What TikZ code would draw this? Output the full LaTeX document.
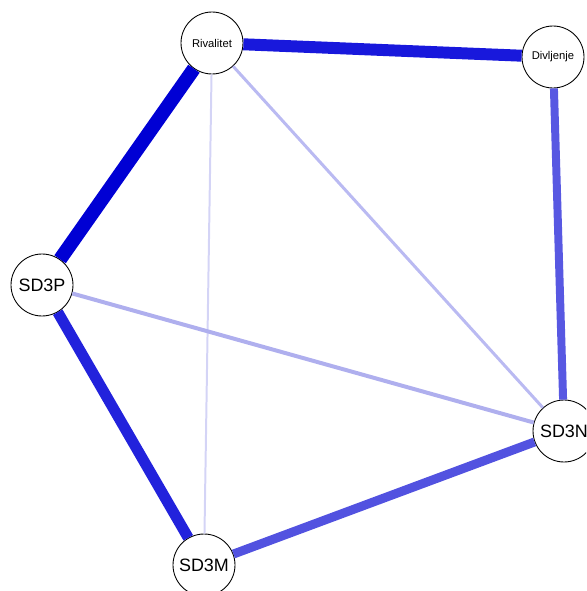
\documentclass[tikz,border=0pt]{standalone}
\usepackage{fontspec}
\setmainfont{Liberation Sans}
\begin{document}
\begin{tikzpicture}[x=0.02cm,y=-0.02cm,
    vertex/.style={circle,draw=black,fill=white,line width=0.5pt,
      minimum size=1.24cm,inner sep=0pt},
    big/.style={font=\fontsize{10.2}{12}\selectfont},
    small/.style={font=\fontsize{6.4}{8}\selectfont}]
  \useasboundingbox (0,0) rectangle (586,591);
  \clip (0,0) rectangle (586,591);
  % nodes
  \node[vertex,small] (riv) at (212,43) {Rivalitet};
  \node[vertex,small] (div) at (553,57) {Divljenje};
  \node[vertex,big] (sdp) at (42,285) {SD3P};
  \node[vertex,big] (sdn) at (564,431) {SD3N};
  \node[vertex,big] (sdm) at (204,565) {SD3M};
  % edges, weaker first
  \draw[line width=2*0.567pt,color={rgb,255:red,212;green,212;blue,246}] (riv) -- (sdm);
  \draw[line width=3*0.567pt,color={rgb,255:red,186;green,186;blue,242}] (riv) -- (sdn);
  \draw[line width=4*0.567pt,color={rgb,255:red,175;green,175;blue,238}] (sdp) -- (sdn);
  \draw[line width=8*0.567pt,color={rgb,255:red,88;green,88;blue,226}] (div) -- (sdn);
  \draw[line width=9*0.567pt,color={rgb,255:red,82;green,82;blue,224}] (sdm) -- (sdn);
  \draw[line width=11*0.567pt,color={rgb,255:red,34;green,34;blue,220}] (sdp) -- (sdm);
  \draw[line width=12*0.567pt,color={rgb,255:red,24;green,24;blue,220}] (riv) -- (div);
  \draw[line width=14*0.567pt,color={rgb,255:red,0;green,0;blue,212}] (riv) -- (sdp);
\end{tikzpicture}
\end{document}
